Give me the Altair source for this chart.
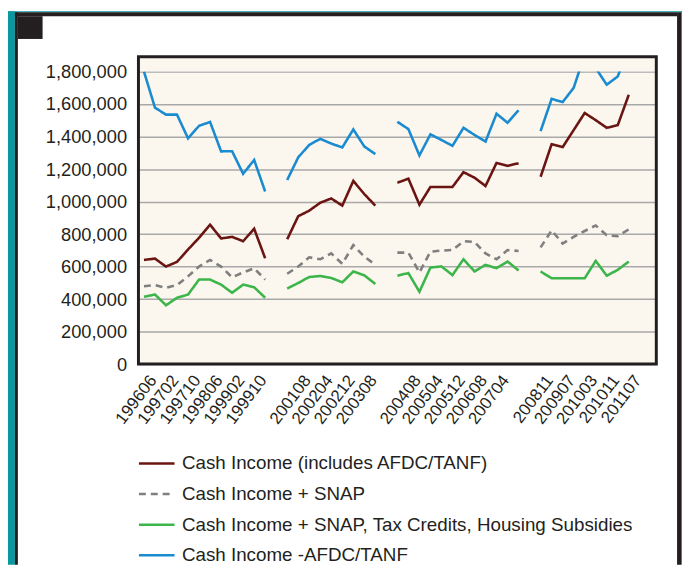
import altair as alt
import pandas as pd

# ---- data ----
seg1 = ["199606", "199610", "199702", "199706", "199710", "199802", "199806",
        "199810", "199902", "199906", "199910", "200002"]
seg2 = ["200104", "200108", "200112", "200204", "200208", "200212", "200304",
        "200308", "200312"]
seg3 = ["200404", "200408", "200412", "200504", "200508", "200512", "200604",
        "200608", "200612", "200704", "200708", "200712"]
seg4 = ["200811", "200903", "200907", "200911", "201003", "201007", "201011",
        "201103", "201107"]
all_periods = seg1 + ["gap1"] + seg2 + ["gap2"] + seg3 + ["gap3"] + seg4 + ["end1", "end2"]
tick_labels = ["199606", "199702", "199710", "199806", "199902", "199910",
               "200108", "200204", "200212", "200308",
               "200408", "200504", "200512", "200608", "200704",
               "200811", "200907", "201003", "201011", "201107"]

series_names = ["Cash Income (includes AFDC/TANF)",
                "Cash Income + SNAP",
                "Cash Income + SNAP, Tax Credits, Housing Subsidies",
                "Cash Income -AFDC/TANF"]
series_colors = ["#6B1512", "#7F7F7F", "#3DB54A", "#1B8BD0"]

cash = [641000, 649000, 600000, 629000, 705000, 777000, 858000, 773000, 783000, 756000, 833000, 651000,
        768000, 910000, 944000, 993000, 1019000, 975000, 1127000, 1046000, 975000,
        1116000, 1141000, 981000, 1090000, 1090000, 1090000, 1181000, 1147000, 1096000, 1238000, 1220000, 1236000,
        1153000, 1353000, 1335000, 1440000, 1545000, 1501000, 1454000, 1470000, 1657000]
snap = [479000, 487000, 469000, 487000, 540000, 600000, 641000, 600000, 534000, 564000, 590000, 520000,
        556000, 600000, 657000, 645000, 681000, 617000, 732000, 661000, 611000,
        686000, 686000, 564000, 692000, 698000, 702000, 756000, 752000, 681000, 645000, 702000, 696000,
        718000, 823000, 742000, 783000, 819000, 853000, 793000, 787000, 829000]
full = [414000, 428000, 362000, 408000, 428000, 520000, 520000, 489000, 439000, 489000, 473000, 408000,
        465000, 499000, 536000, 542000, 530000, 503000, 570000, 546000, 493000,
        544000, 560000, 445000, 594000, 601000, 548000, 645000, 570000, 611000, 590000, 631000, 576000,
        570000, 528000, 528000, 528000, 528000, 635000, 544000, 580000, 631000]
no_tanf = [1800000, 1578000, 1535000, 1535000, 1389000, 1466000, 1490000, 1309000, 1310000, 1171000, 1256000, 1062000,
           1133000, 1272000, 1349000, 1386000, 1357000, 1333000, 1444000, 1339000, 1292000,
           1491000, 1446000, 1284000, 1414000, 1379000, 1343000, 1454000, 1410000, 1369000, 1541000, 1485000, 1562000,
           1434000, 1632000, 1612000, 1700000, 1905000, 1822000, 1719000, 1770000, 1945000]

periods = seg1 + seg2 + seg3 + seg4
segments = [1] * len(seg1) + [2] * len(seg2) + [3] * len(seg3) + [4] * len(seg4)

rows = []
for name, vals in zip(series_names, [cash, snap, full, no_tanf]):
    for p, s, v in zip(periods, segments, vals):
        rows.append({"period": p, "segment": s, "series": name, "value": v})
df = pd.DataFrame(rows)

FONT = "Liberation Sans"
DARK = "#231F20"
TEAL = "#0B97A0"
CREAM = "#FBF7EF"
W, H = 524, 296


def legend():
    return alt.Legend(orient="none", legendX=-1, legendY=377, direction="vertical",
                      title=None, symbolType="stroke", symbolSize=1296,
                      symbolStrokeWidth=2.6, labelFont=FONT, labelFontSize=19,
                      labelColor=DARK, labelLimit=0, rowPadding=1,
                      labelOffset=6, padding=0)


lines = alt.Chart(df).mark_line(strokeWidth=2.6, clip=True, strokeJoin="miter").encode(
    x=alt.X("period:O",
            scale=alt.Scale(domain=all_periods, type="point", padding=0.5),
            axis=alt.Axis(values=tick_labels, title=None, labelAngle=-53,
                          labelAlign="right", labelBaseline="middle",
                          labelOffset=9, labelPadding=13, ticks=False, domain=False,
                          labelFont=FONT, labelFontSize=17, labelColor=DARK, grid=False)),
    y=alt.Y("value:Q",
            scale=alt.Scale(domain=[0, 1800000], nice=False, zero=True),
            axis=alt.Axis(values=list(range(0, 1800001, 200000)), format=",d", title=None,
                          ticks=False, domain=False, labelPadding=12,
                          labelFont=FONT, labelFontSize=18.5, labelColor=DARK,
                          grid=True, gridColor="#A9A9A9", gridWidth=1.5)),
    color=alt.Color("series:N", scale=alt.Scale(domain=series_names, range=series_colors),
                    legend=legend()),
    strokeDash=alt.StrokeDash("series:N",
                              scale=alt.Scale(domain=series_names,
                                              range=[[1, 0], [7, 5], [1, 0], [1, 0]]),
                              legend=legend()),
    detail="segment:N",
)

one = alt.Data(values=[{"k": 1}])


def box(x, x2, y, y2, **kw):
    return alt.Chart(one).mark_rect(**kw).encode(
        x=alt.value(x), x2=alt.value(x2), y=alt.value(y), y2=alt.value(y2))


strip = box(0, W, -15, 0, fill=CREAM)
frame = box(0, W, -15, H, fillOpacity=0, stroke=DARK, strokeWidth=3)
deco = [
    box(-132, -125, -61, 499, fill=TEAL),
    box(-132, 550, -61, -60, fill=TEAL),
    box(-125, -122, -60, 499, fill=DARK),
    box(-125, 545, -60, -56, fill=DARK),
    box(545, 549, -60, 499, fill=DARK),
    box(549, 550, -61, 499, fill=TEAL),
    box(-122, -97, -56, -33, fill=DARK),
]

chart = alt.layer(strip, lines, frame, *deco).properties(
    width=W, height=H,
    padding={"left": 132, "top": 61, "right": 26, "bottom": 203},
    autosize=alt.AutoSizeParams(type="none"),
    background="white",
).configure_view(fill=CREAM, stroke="transparent")

chart.save("out.html", embed_options={"renderer": "svg", "actions": False})
